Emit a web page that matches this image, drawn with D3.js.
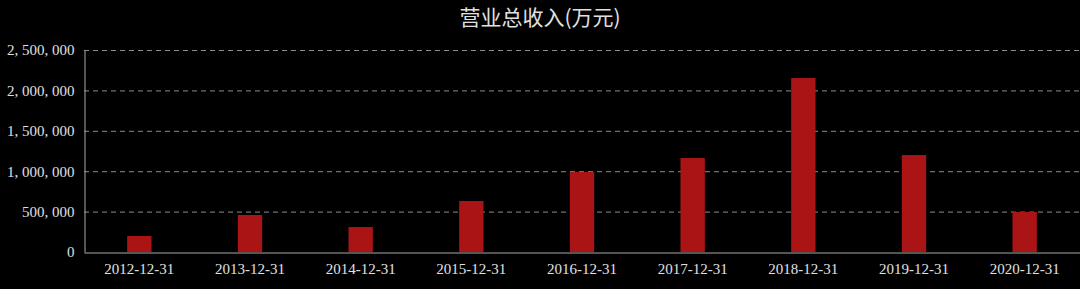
<!DOCTYPE html>
<html>
<head>
<meta charset="utf-8">
<script src="https://cdn.jsdelivr.net/npm/d3@7"></script>
<style>
  body { margin: 0; background: #000; }
</style>
</head>
<body>
<svg id="chart"></svg>
<script>
let categories = ["2012-12-31", "2013-12-31", "2014-12-31", "2015-12-31", "2016-12-31",
    "2017-12-31", "2018-12-31", "2019-12-31", "2020-12-31"];
let revenue = [198000, 458000, 309000, 631000, 990000, 1163000, 2153000, 1200000, 495000];
let yTicks = [0, 500000, 1000000, 1500000, 2000000, 2500000];
let title = "营业总收入(万元)";

let width = 1080,
    height = 289,
    margin = {top: 50, right: 0, bottom: 37, left: 84};

let svg = d3.select("#chart")
    .attr("width", width)
    .attr("height", height)
    .style("background", "#000");

let x = d3.scaleBand()
    .domain(categories)
    .range([margin.left, width - margin.right])
    .paddingInner(0.78)
    .paddingOuter(0.39);

let y = d3.scaleLinear()
    .domain([0, 2500000])
    .range([height - margin.bottom, margin.top]);

let fmt = d3.format(",");

// grid
svg.append("g")
    .selectAll("line")
    .data(yTicks.slice(1))
    .enter().append("line")
    .attr("x1", margin.left)
    .attr("x2", width - margin.right)
    .attr("y1", d => y(d) + 0.5)
    .attr("y2", d => y(d) + 0.5)
    .attr("stroke", "#8a8a8a")
    .attr("stroke-width", 1)
    .attr("stroke-dasharray", "5,4");

// bars
svg.append("g")
    .selectAll("rect")
    .data(revenue)
    .enter().append("rect")
    .attr("x", (d, i) => x(categories[i]))
    .attr("y", d => y(d))
    .attr("width", x.bandwidth())
    .attr("height", d => y(0) - y(d))
    .attr("fill", "#aa1414");

// y axis
let yAxis = svg.append("g")
    .attr("transform", "translate(" + (margin.left + 0.5) + ",0)")
    .call(d3.axisLeft(y).tickValues(yTicks).tickFormat(d => fmt(d).replace(/,/g, ", ")).tickSize(0).tickPadding(10));
yAxis.select(".domain").attr("stroke", "#aaa");
yAxis.selectAll("text")
    .attr("fill", "#e0e0e0")
    .style("font-family", "'Liberation Serif', 'DejaVu Serif', serif")
    .style("font-size", "15px");

// x axis
let xAxis = svg.append("g")
    .attr("transform", "translate(0," + (y(0) + 0.5) + ")")
    .call(d3.axisBottom(x).tickSize(0).tickPadding(11));
xAxis.select(".domain").attr("stroke", "#aaa");
xAxis.selectAll("text")
    .attr("fill", "#e0e0e0")
    .style("font-family", "'Liberation Serif', 'DejaVu Serif', serif")
    .style("font-size", "15px");

// title
svg.append("text")
    .attr("x", width / 2)
    .attr("y", 25)
    .attr("text-anchor", "middle")
    .attr("fill", "#e0e0e0")
    .style("font-family", "'Noto Sans CJK SC', sans-serif")
    .style("font-size", "21px")
    .text(title);
</script>
</body>
</html>
